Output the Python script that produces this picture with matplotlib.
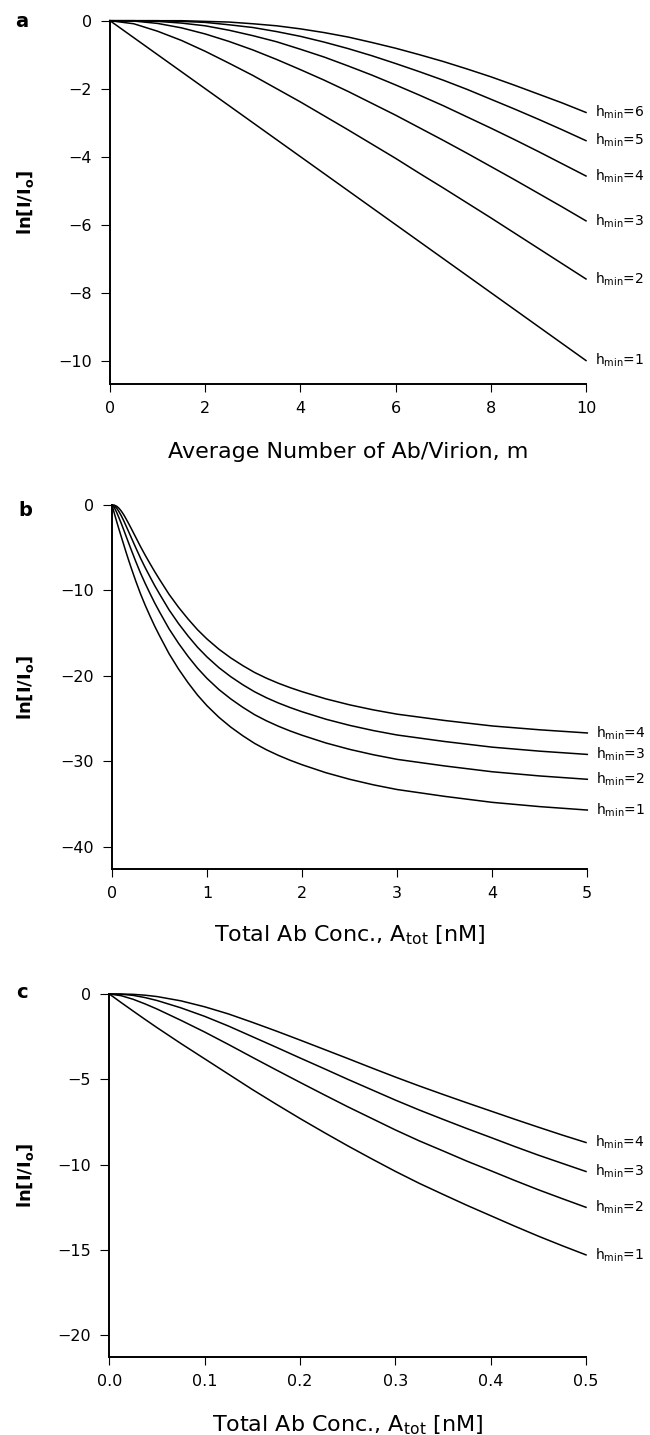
import matplotlib
matplotlib.use("Agg")
import matplotlib.pyplot as plt

# panel a: ln[I/Io] vs average number of Ab per virion
m_avg = [0, 0.5, 1, 1.5, 2, 2.5, 3, 3.5, 4, 4.5, 5, 5.5, 6, 6.5, 7, 7.5, 8, 8.5, 9, 9.5, 10]
a_h1 = [0, -0.5, -1, -1.5, -2, -2.5, -3, -3.5, -4, -4.5, -5, -5.5, -6, -6.5, -7, -7.5, -8, -8.5, -9, -9.5, -10]
a_h2 = [0, -0.09, -0.31, -0.58, -0.90, -1.25, -1.61, -2.00, -2.39, -2.80, -3.21, -3.63, -4.05, -4.49, -4.92, -5.36, -5.80, -6.25, -6.70, -7.15, -7.60]
a_h3 = [0, -0.01, -0.08, -0.21, -0.39, -0.61, -0.86, -1.14, -1.44, -1.75, -2.08, -2.43, -2.78, -3.15, -3.52, -3.90, -4.29, -4.68, -5.08, -5.48, -5.89]
a_h4 = [0, 0.00, -0.02, -0.07, -0.15, -0.28, -0.44, -0.62, -0.84, -1.07, -1.33, -1.60, -1.89, -2.19, -2.50, -2.83, -3.16, -3.50, -3.85, -4.21, -4.57]
a_h5 = [0, 0.00, 0.00, -0.02, -0.05, -0.12, -0.20, -0.32, -0.46, -0.63, -0.82, -1.03, -1.26, -1.50, -1.75, -2.02, -2.31, -2.60, -2.90, -3.21, -3.53]
a_h6 = [0, 0.00, 0.00, 0.00, -0.02, -0.04, -0.09, -0.15, -0.24, -0.35, -0.48, -0.64, -0.81, -1.00, -1.20, -1.42, -1.65, -1.90, -2.16, -2.42, -2.70]

# panel b: total Ab conc. 0-5 nM
conc_b = [0, 0.025, 0.05, 0.075, 0.1, 0.125, 0.15, 0.175, 0.2, 0.25, 0.3, 0.35, 0.4, 0.45, 0.5,
          0.6, 0.7, 0.8, 0.9, 1.0, 1.125, 1.25, 1.375, 1.5, 1.625, 1.75, 1.875, 2.0,
          2.25, 2.5, 2.75, 3.0, 3.5, 4.0, 4.5, 5.0]
b_h1 = [0, -1.0, -1.97, -2.9, -3.8, -4.7, -5.6, -6.46, -7.3, -8.9, -10.4, -11.75, -13.0, -14.2, -15.3,
        -17.4, -19.2, -20.8, -22.25, -23.5, -24.85, -26.0, -27.0, -27.9, -28.65, -29.3, -29.88, -30.4,
        -31.33, -32.1, -32.75, -33.3, -34.1, -34.8, -35.3, -35.7]
b_h2 = [0, -0.31, -0.88, -1.54, -2.23, -2.96, -3.71, -4.45, -5.18, -6.61, -7.97, -9.20, -10.36, -11.48, -12.51,
        -14.49, -16.19, -17.72, -19.10, -20.30, -21.60, -22.70, -23.67, -24.54, -25.26, -25.89, -26.45, -26.95,
        -27.85, -28.60, -29.23, -29.77, -30.54, -31.22, -31.71, -32.10]
b_h3 = [0, -0.08, -0.38, -0.81, -1.31, -1.88, -2.50, -3.12, -3.75, -5.00, -6.22, -7.35, -8.41, -9.45, -10.41,
        -12.27, -13.88, -15.33, -16.65, -17.79, -19.04, -20.10, -21.03, -21.86, -22.56, -23.17, -23.71, -24.20,
        -25.07, -25.79, -26.40, -26.92, -27.68, -28.34, -28.81, -29.19]
b_h4 = [0, -0.02, -0.15, -0.40, -0.75, -1.17, -1.66, -2.17, -2.70, -3.78, -4.87, -5.89, -6.86, -7.81, -8.71,
        -10.45, -11.97, -13.34, -14.60, -15.69, -16.88, -17.90, -18.79, -19.60, -20.27, -20.86, -21.38, -21.85,
        -22.69, -23.39, -23.98, -24.48, -25.22, -25.86, -26.31, -26.68]

# panel c: total Ab conc. 0-0.5 nM
conc_c = [0, 0.0125, 0.025, 0.0375, 0.05, 0.075, 0.1, 0.125, 0.15, 0.175, 0.2, 0.225,
          0.25, 0.275, 0.3, 0.325, 0.35, 0.375, 0.4, 0.425, 0.45, 0.475, 0.5]
c_h1 = [0, -0.505, -1.0, -1.49, -1.97, -2.9, -3.8, -4.7, -5.6, -6.46, -7.3, -8.11,
        -8.9, -9.66, -10.4, -11.1, -11.75, -12.39, -13.0, -13.61, -14.2, -14.76, -15.3]
c_h2 = [0, -0.10, -0.31, -0.58, -0.88, -1.54, -2.23, -2.96, -3.71, -4.45, -5.18, -5.90,
        -6.61, -7.29, -7.97, -8.61, -9.20, -9.80, -10.36, -10.93, -11.48, -12.00, -12.51]
c_h3 = [0, -0.015, -0.08, -0.21, -0.38, -0.81, -1.31, -1.88, -2.50, -3.12, -3.75, -4.37,
        -5.00, -5.61, -6.22, -6.80, -7.35, -7.89, -8.41, -8.94, -9.45, -9.93, -10.41]
c_h4 = [0, -0.002, -0.02, -0.07, -0.15, -0.40, -0.75, -1.17, -1.66, -2.17, -2.70, -3.24,
        -3.78, -4.33, -4.87, -5.39, -5.89, -6.38, -6.86, -7.34, -7.81, -8.27, -8.71]

plt.rcParams["font.family"] = ["DejaVu Sans"]
plt.rcParams["mathtext.fontset"] = "dejavusans"

W, H = 650, 1435
fig = plt.figure(figsize=(W / 100, H / 100), dpi=100)


def add_ax(left, top, right, bottom):
    return fig.add_axes([left / W, 1 - bottom / H, (right - left) / W, (bottom - top) / H])


def style(ax, xlim, ylim, xticks, yticks, xfmt):
    ax.set_xlim(*xlim)
    ax.set_ylim(*ylim)
    ax.set_xticks(xticks)
    ax.set_xticklabels([xfmt.format(t) for t in xticks])
    ax.set_yticks(yticks)
    for s in ["top", "right"]:
        ax.spines[s].set_visible(False)
    for s in ["left", "bottom"]:
        ax.spines[s].set_linewidth(1.4)
    ax.tick_params(axis="y", direction="out", length=6.5, width=0.8, pad=6.5, labelsize=11.5)
    ax.tick_params(axis="x", direction="out", length=5.5, width=0.8, pad=7, labelsize=11.5)


def curves(ax, x, series, labels):
    for y, lab in zip(series, labels):
        ax.plot(x, y, color="black", lw=1.1, clip_on=False, solid_joinstyle="round")
        ax.annotate(lab, xy=(x[-1], y[-1]), xytext=(6.5, 0), textcoords="offset points",
                    ha="left", va="center", fontsize=10, annotation_clip=False)


def hlab(n):
    return r"h$_{\mathregular{min}}$=" + str(n)


ylab = r"$\mathbf{ln[I/I_o]}$"

# panel a
ax1 = add_ax(110, 20.7, 586, 384)
curves(ax1, m_avg, [a_h1, a_h2, a_h3, a_h4, a_h5, a_h6], [hlab(i) for i in range(1, 7)])
style(ax1, (0, 10), (-10.69, 0), [0, 2, 4, 6, 8, 10], [0, -2, -4, -6, -8, -10], "{:g}")
ax1.set_xlabel("Average Number of Ab/Virion, m", fontsize=16, va="top")
ax1.xaxis.set_label_coords(0.5, -58 / 363.3)

# panel b
ax2 = add_ax(112, 505, 587.3, 869)
curves(ax2, conc_b, [b_h1, b_h2, b_h3, b_h4], [hlab(i) for i in range(1, 5)])
style(ax2, (0, 5), (-42.6, 0), [0, 1, 2, 3, 4, 5], [0, -10, -20, -30, -40], "{:g}")
ax2.set_xlabel(r"Total Ab Conc., A$_{\mathregular{tot}}$ [nM]", fontsize=16, va="top")
ax2.xaxis.set_label_coords(0.5, -54 / 364)

# panel c
ax3 = add_ax(109.3, 994, 586, 1356.7)
curves(ax3, conc_c, [c_h1, c_h2, c_h3, c_h4], [hlab(i) for i in range(1, 5)])
style(ax3, (0, 0.5), (-21.27, 0), [0, 0.1, 0.2, 0.3, 0.4, 0.5], [0, -5, -10, -15, -20], "{:.1f}")
ax3.set_xlabel(r"Total Ab Conc., A$_{\mathregular{tot}}$ [nM]", fontsize=16, va="top")
ax3.xaxis.set_label_coords(0.5, -57 / 362.7)

# y labels and panel letters
for ax, (top, bottom) in zip([ax1, ax2, ax3], [(20.7, 384), (505, 869), (994, 1356.7)]):
    fig.text(26 / W, 1 - (top + bottom) / 2 / H, ylab, rotation=90, ha="center", va="center", fontsize=13)

for letter, x, base in [("a", 15, 27.3), ("b", 18.3, 515.7), ("c", 16, 998.3)]:
    fig.text(x / W, 1 - base / H, letter, ha="left", va="baseline", fontsize=14, fontweight="bold")

fig.savefig("out.png", dpi=100)
